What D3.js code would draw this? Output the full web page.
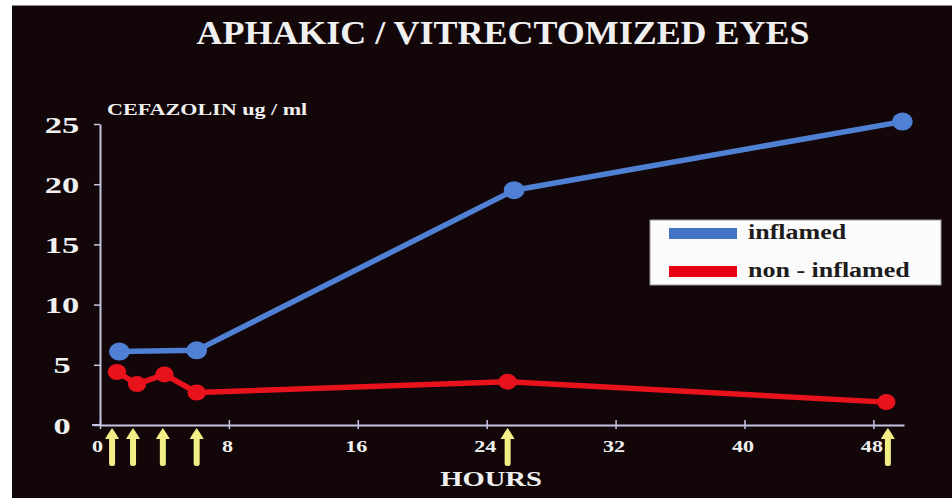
<!DOCTYPE html>
<meta charset="utf-8">
<script src="https://cdn.jsdelivr.net/npm/d3@7"></script>
<style>
body { margin: 0; background: #fff; }
text { font-family: "Liberation Serif", "DejaVu Serif", serif; font-weight: bold; }
</style>
<body>
<script>

// concentration (ug/ml) against hours after first dose
var inflamedHours = [1.2, 6.0, 25.7, 49.8];
var inflamedConc  = [6.1, 6.2, 19.5, 25.2];
var nonInflamedHours = [1.05, 2.3, 4.0, 6.0, 25.3, 48.8];
var nonInflamedConc  = [4.4, 3.4, 4.2, 2.7, 3.6, 1.9];
var doseHours = [0.75, 2.05, 3.9, 6.0, 25.3, 48.9];
var xTicks = [0, 8, 16, 24, 32, 40, 48];
var yTicks = [0, 5, 10, 15, 20, 25];
var seriesNames = ["inflamed", "non - inflamed"];
var seriesColors = ["#4f80d4", "#e8121c"];

var width = 952, height = 498;
// the slide was stretched sideways, so text is drawn wider than tall
var stretch = 1.3;

var svg = d3.select("body").append("svg")
    .attr("width", width)
    .attr("height", height);

svg.append("rect").attr("width", width).attr("height", height).attr("fill", "#fff");
svg.append("rect")
    .attr("x", 12).attr("y", 5)
    .attr("width", width - 12).attr("height", height - 5)
    .attr("fill", "#120609");
svg.append("line")
    .attr("x1", 12).attr("x2", width).attr("y1", 5.5).attr("y2", 5.5)
    .attr("stroke", "#8a8a8a").attr("stroke-width", 1);

var x = d3.scaleLinear().domain([0, 49.9]).range([100, 904]);
var y = d3.scaleLinear().domain([0, 25]).range([425, 124]);

var axisColor = "#c4c4e4";

function label(g, px, py, sx, size, str, anchor, color) {
  return g.append("text")
      .attr("transform", "translate(" + px + "," + py + ") scale(" + sx + ",1)")
      .attr("text-anchor", anchor || "start")
      .attr("fill", color || "#f0f0f0")
      .style("font-size", size + "px")
      .text(str);
}

label(svg, 503, 44, 1.09, 33, "APHAKIC / VITRECTOMIZED EYES", "middle");
label(svg, 107, 115, stretch, 17, "CEFAZOLIN ug / ml");

// y axis
var yAxis = svg.append("g")
    .attr("transform", "translate(" + x(0) + ",0)")
    .call(d3.axisLeft(y).tickValues(yTicks).tickSize(6).tickSizeOuter(0).tickFormat(""));
yAxis.select(".domain").attr("stroke", axisColor).attr("stroke-width", 2);
yAxis.selectAll(".tick line").attr("stroke", axisColor).attr("stroke-width", 1.5);
yAxis.selectAll(".tick").each(function(d) {
  label(d3.select(this), -38, 8, 1.5, 23, d, "middle");
});

// x axis
var xAxis = svg.append("g")
    .attr("transform", "translate(0," + y(0) + ")")
    .call(d3.axisBottom(x).tickValues(xTicks).tickSize(-5).tickSizeOuter(0).tickFormat(""));
xAxis.select(".domain").attr("stroke", axisColor).attr("stroke-width", 2);
xAxis.selectAll(".tick line").attr("stroke", axisColor).attr("stroke-width", 1.5).attr("y2", 4).attr("y1", -5);
xAxis.selectAll(".tick").each(function(d) {
  label(d3.select(this), d == 0 ? -3 : -2, 27, stretch, 17, d, "middle");
});
xAxis.append("line")
    .attr("x1", 92).attr("x2", x(0))
    .attr("stroke", axisColor).attr("stroke-width", 2);

label(svg, 491, 486, stretch, 22, "HOURS", "middle");

// series
var series = [
  {name: seriesNames[0], color: seriesColors[0], r: 9,
   pts: inflamedHours.map(function(h, i) { return [h, inflamedConc[i]]; })},
  {name: seriesNames[1], color: seriesColors[1], r: 8,
   pts: nonInflamedHours.map(function(h, i) { return [h, nonInflamedConc[i]]; })}
];

var line = d3.line()
    .x(function(d) { return x(d[0]); })
    .y(function(d) { return y(d[1]); });

series.slice().reverse().forEach(function(s) {
  svg.append("path")
      .datum(s.pts)
      .attr("d", line)
      .attr("fill", "none")
      .attr("stroke", s.color)
      .attr("stroke-width", 5.5)
      .attr("stroke-linejoin", "round");
  svg.selectAll(null)
      .data(s.pts)
      .enter().append("ellipse")
      .attr("cx", function(d) { return x(d[0]); })
      .attr("cy", function(d) { return y(d[1]); })
      .attr("rx", s.r * 1.15)
      .attr("ry", s.r)
      .attr("fill", s.color);
});

// dosing arrows
var arrow = svg.append("g").selectAll("g")
    .data(doseHours)
    .enter().append("g")
    .attr("transform", function(d) { return "translate(" + x(d) + "," + (y(0) + 3) + ")"; });
arrow.append("rect")
    .attr("x", -3).attr("y", 8)
    .attr("width", 6).attr("height", 30)
    .attr("rx", 2.5)
    .attr("fill", "#f3ee86");
arrow.append("path")
    .attr("d", "M0,0 Q3,4 7,11 L-7,11 Q-3,4 0,0 Z")
    .attr("fill", "#f3ee86");

// legend
var legend = svg.append("g").attr("transform", "translate(650,220)");
legend.append("rect")
    .attr("width", 291).attr("height", 65)
    .attr("fill", "#fbfbfb")
    .attr("stroke", "#9a9a9a");
var item = legend.selectAll("g.item")
    .data(series)
    .enter().append("g")
    .attr("class", "item")
    .attr("transform", function(d, i) { return "translate(0," + (i * 38) + ")"; });
item.append("rect")
    .attr("x", 19).attr("y", 8)
    .attr("width", 68).attr("height", 11)
    .attr("fill", function(d, i) { return i == 0 ? "#4472c4" : "#e60012"; });
item.each(function(d) {
  label(d3.select(this), 98, 19, stretch, 20, d.name, "start", "#1c1c1c");
});

</script>
</body>
